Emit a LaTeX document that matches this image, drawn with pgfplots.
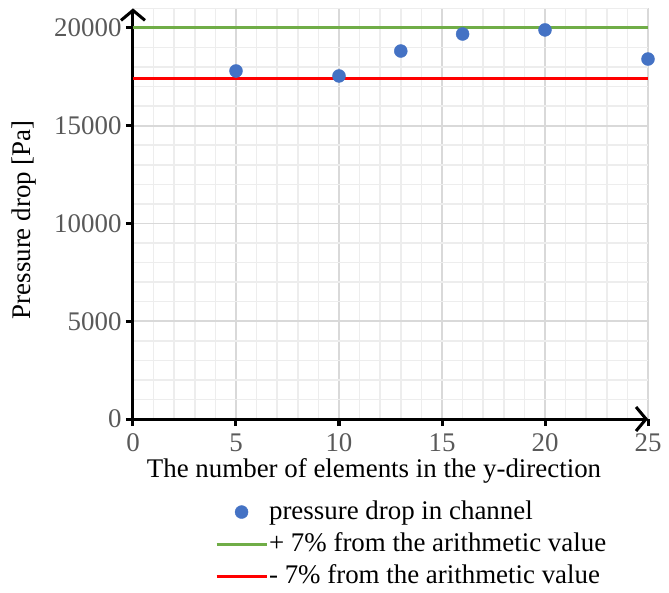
\documentclass[border=0pt]{standalone}
\usepackage{pgfplots}
\pgfplotsset{compat=1.18}
\usepackage{fontspec}
\setmainfont{Liberation Serif}
\usetikzlibrary{arrows.meta}
\definecolor{ptblue}{HTML}{4472C4}
\definecolor{lgreen}{HTML}{70AD47}
\definecolor{tickgray}{HTML}{595959}
\definecolor{majgrid}{HTML}{D9D9D9}
\definecolor{mingrid}{HTML}{EDEDED}
\begin{document}
\begin{tikzpicture}
\path[use as bounding box] (-133bp,-174bp) rectangle (536bp,419bp);
\begin{axis}[
  at={(0,0)}, anchor=south west,
  scale only axis, width=515bp, height=410.6bp,
  xmin=0, xmax=25, ymin=0, ymax=21000,
  axis x line=bottom, axis y line=left,
  axis line style={line width=3bp, -{Straight Barb[length=10bp,width=24bp,line width=3bp]}},
  xtick={0,5,...,25}, ytick={0,5000,...,20000},
  minor xtick={0,1,...,25}, minor ytick={0,1000,...,21000},
  grid=both,
  major grid style={majgrid, line width=1.6bp},
  minor grid style={mingrid, line width=1.6bp},
  tick align=outside,
  major tick length=7bp, minor tick length=0pt,
  major tick style={black, line width=3bp},
  scaled y ticks=false,
  /pgf/number format/1000 sep={},
  /pgf/number format/assume math mode=true,
  ticklabel style={font=\fontsize{27}{30}\selectfont, text=tickgray},
  xticklabel style={yshift=-4bp},
  yticklabel style={xshift=-1bp},
  label style={font=\fontsize{27}{30}\selectfont},
  xlabel={The number of elements in the y-direction},
  ylabel={Pressure drop [Pa]},
  xlabel style={at={(axis description cs:0.468,-0.126)}, anchor=center},
  ylabel style={at={(axis description cs:-0.212,0.485)}, anchor=center},
  legend style={draw=none, fill=none, at={(axis description cs:0.159,-0.192)}, anchor=north west,
    font=\fontsize{27}{30}\selectfont, inner sep=0pt, row sep=4bp,
    nodes={inner sep=1bp, text height=20bp, text depth=6bp}},
  legend cell align=left,
  legend image code/.code={\draw[mark repeat=2,mark phase=2,#1] plot coordinates {(0bp,0bp) (25bp,0bp) (50bp,0bp)};},
  clip=false,
]
\addplot[only marks, mark=*, mark size=6.5bp, ptblue, mark options={draw=ptblue, fill=ptblue},
  legend image code/.code={\draw[mark repeat=2,mark phase=2,##1] plot coordinates {(0bp,0bp) (25bp,0bp) (50bp,0bp)};}]
  coordinates {(5,17800) (10,17545) (13,18820) (16,19690) (20,19900) (25,18410)};
\addlegendentry{pressure drop in channel}
\addplot[lgreen, line width=3bp] coordinates {(0,20000) (25,20000)};
\addlegendentry{+ 7\% from the arithmetic value}
\addplot[red, line width=3bp] coordinates {(0,17390) (25,17390)};
\addlegendentry{- 7\% from the arithmetic value}
\end{axis}
\end{tikzpicture}
\end{document}
